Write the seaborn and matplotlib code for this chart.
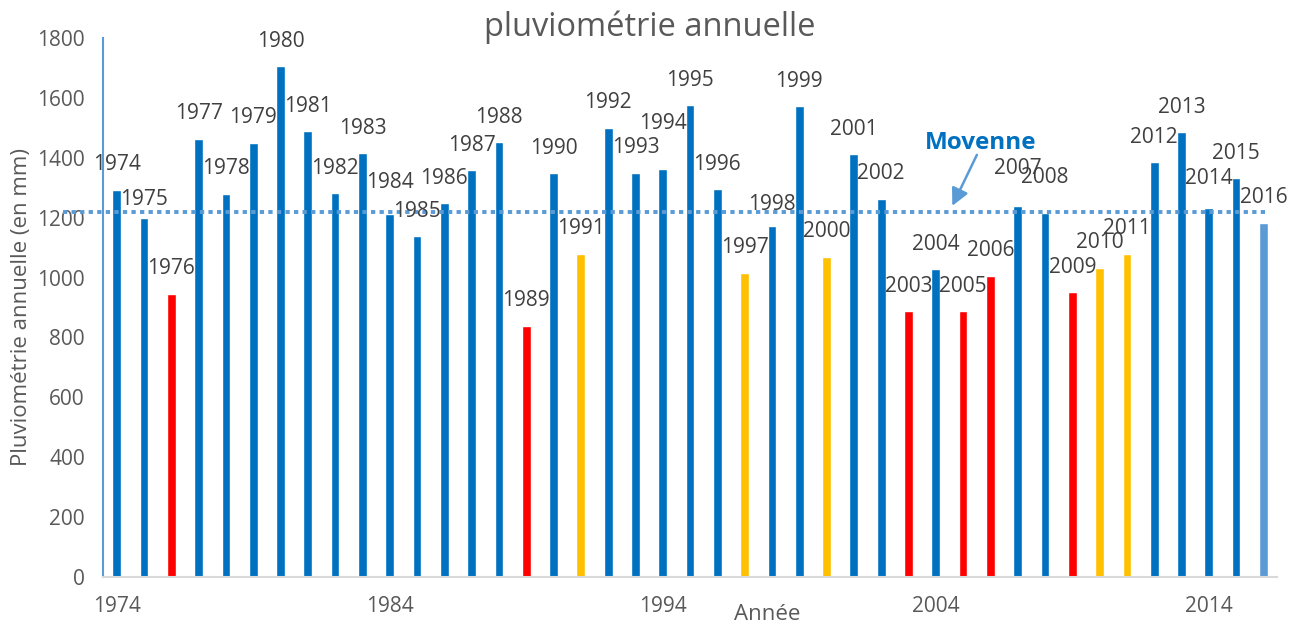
import numpy as np
import pandas as pd
import seaborn as sns
import matplotlib.pyplot as plt

# données (mm)
annees = list(range(1974, 2017))
pluie = [1291, 1198, 944, 1462, 1278, 1448, 1705, 1488, 1281, 1415, 1211, 1138, 1248,
         1358, 1452, 838, 1348, 1078, 1498, 1348, 1362, 1575, 1295, 1014, 1171, 1572,
         1068, 1412, 1261, 888, 1028, 888, 1004, 1238, 1215, 951, 1031, 1078, 1385,
         1485, 1231, 1331, 1181]
seches = [1976, 1989, 2003, 2005, 2006, 2009]
moyennes = [1991, 1997, 2000, 2010, 2011]
derniere = [2016]
moyenne_pluie = 1219
ticks_annees = [1974, 1984, 1994, 2004, 2014]

# hauteur des étiquettes (placées à la main dans l'original)
label_y = [1378, 1261, 1031, 1548, 1365, 1535, 1789, 1572, 1365, 1498, 1318, 1221, 1331,
           1441, 1535, 924, 1432, 1165, 1585, 1435, 1515, 1658, 1378, 1101, 1245, 1655,
           1155, 1495, 1348, 971, 1111, 971, 1091, 1365, 1335, 1035, 1118, 1165, 1468,
           1568, 1331, 1415, 1268]

couleurs = {"normale": "#0070C0", "seche": "#FF0000", "moyenne": "#FFC000", "derniere": "#5B9BD5"}


def classe(a):
    if a in seches:
        return "seche"
    if a in moyennes:
        return "moyenne"
    if a in derniere:
        return "derniere"
    return "normale"


df = pd.DataFrame({"annee": [str(a) for a in annees], "pluie": pluie})
df["classe"] = [classe(a) for a in annees]
palette = [couleurs[c] for c in df["classe"]]

sns.set_style("white")
plt.rcParams['font.family'] = ['Open Sans', 'DejaVu Sans']

fig = plt.figure(figsize=(13.01, 6.28), dpi=100)
ax = fig.add_axes([0.0792, 0.0812, 0.9024, 0.8583])

sns.barplot(data=df, x="annee", y="pluie", hue="annee", palette=palette, legend=False,
            width=0.32, saturation=1, ax=ax, zorder=2)

ax.set_xlim(-0.5, len(annees) - 0.5)
ax.set_ylim(0, 1800)
ax.set_yticks(range(0, 1801, 200))
ax.set_xticks([annees.index(a) for a in ticks_annees])
ax.set_xticklabels([str(a) for a in ticks_annees])
ax.set_xticks(np.arange(-0.5, len(annees), 0.5), minor=True)
ax.set_xlabel("")
ax.set_ylabel("")

ax.tick_params(axis="x", which="both", length=4.5, width=1, color="#D9D9D9",
               direction="out", pad=9, labelsize=15, labelcolor="#595959")
ax.tick_params(axis="y", length=4, width=1.2, color="#5B9BD5", direction="out",
               pad=9, labelsize=15, labelcolor="#595959")

for s in ["top", "right"]:
    ax.spines[s].set_visible(False)
ax.spines["left"].set_color("#5B9BD5")
ax.spines["left"].set_linewidth(1.5)
ax.spines["bottom"].set_color("#D9D9D9")
ax.spines["bottom"].set_linewidth(1.5)

# ligne de la moyenne
ax.axhline(moyenne_pluie, xmin=-0.034, xmax=0.9915, color="#5B9BD5", lw=2.8,
           ls=(0, (1.1, 1.1)), clip_on=False, zorder=3)

# étiquettes années
for i, a in enumerate(annees):
    ax.text(i, label_y[i], str(a), ha="center", va="center", fontsize=15,
            color="#404040", zorder=4)

ax.text(31.66, 1448, "Movenne", ha="center", va="center", fontsize=17.5,
        fontweight="bold", color="#0070C0")
ax.annotate("", xy=(30.56, 1231), xytext=(31.55, 1418),
            arrowprops=dict(arrowstyle="-|>", color="#5B9BD5", lw=1.8, mutation_scale=26))

fig.text(650 / 1301, 1 - 27 / 628, "pluviométrie annuelle", ha="center", va="center",
         fontsize=23.5, color="#595959")
fig.text(22 / 1301, 1 - 307 / 628, "Pluviométrie annuelle (en mm)", ha="center",
         va="center", rotation=90, fontsize=16, color="#595959")
fig.text(767 / 1301, 1 - 614 / 628, "Année", ha="center", va="center",
         fontsize=16, color="#595959")

fig.savefig("out.png", dpi=100)
